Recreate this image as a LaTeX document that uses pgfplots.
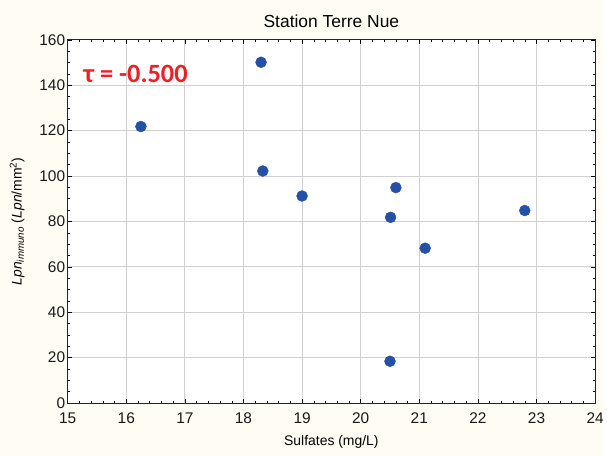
\documentclass[border=0pt]{standalone}
\usepackage{pgfplots}
\pgfplotsset{compat=1.18}
\usepackage{fontspec}
\setmainfont{Liberation Sans}
\newfontfamily\taufont{Carlito}
\usetikzlibrary{backgrounds}
\definecolor{bgcream}{HTML}{FFFCF4}
\definecolor{ptblue}{HTML}{2451A6}
\definecolor{taured}{HTML}{EE2026}
\begin{document}
\begin{tikzpicture}[x=1pt,y=1pt]
\begin{axis}[
  name=ax,
  scale only axis,
  width=530pt, height=365pt,
  xmin=15, xmax=24, ymin=0, ymax=160,
  xtick={15,...,24}, ytick={0,20,...,160},
  minor x tick num=4, minor y tick num=3,
  tick align=inside,
  major tick length=4pt, minor tick length=2.5pt,
  tick style={black, line width=0.5pt},
  axis line style={black!85, line width=0.7pt},
  grid=major,
  major grid style={black!18, line width=0.8pt},
  axis background/.style={fill=white},
  /pgf/number format/assume math mode=true,
  ticklabel style={font=\fontsize{15.5}{17}\selectfont, black!90},
  xticklabel style={yshift=-6pt},
  yticklabel style={xshift=1pt},
  title={Station Terre Nue},
  title style={font=\fontsize{17.5}{20}\selectfont, yshift=3pt},
  xlabel={Sulfates (mg/L)},
  xlabel style={font=\fontsize{14}{16}\selectfont, yshift=-5pt},
  ylabel={\textit{Lpn}\textsubscript{\textit{immuno}} (\textit{Lpn}/mm\textsuperscript{2})},
  ylabel style={font=\fontsize{14}{16}\selectfont, yshift=8pt},
  clip=false,
]
\addplot[only marks, mark=*, mark size=5.5pt, mark options={fill=ptblue, draw=ptblue}]
coordinates {
(16.25,121.8) (18.30,150.1) (18.33,102.2) (19.00,91.2) (20.60,94.9)
(20.51,81.8) (21.10,68.2) (22.80,84.8) (20.50,18.4)
};
\node[anchor=base west, text=taured, font=\taufont\bfseries\fontsize{26.5}{29}\selectfont, inner sep=0pt] at (axis cs:15.27,141.0) {τ = -0.500};
\end{axis}
\begin{scope}[on background layer]
\fill[bgcream] ([shift={(-68pt,-53pt)}]ax.south west) rectangle ([shift={(9pt,40pt)}]ax.north east);
\end{scope}
\useasboundingbox ([shift={(-68pt,-53pt)}]ax.south west) rectangle ([shift={(9pt,40pt)}]ax.north east);
\end{tikzpicture}
\end{document}
